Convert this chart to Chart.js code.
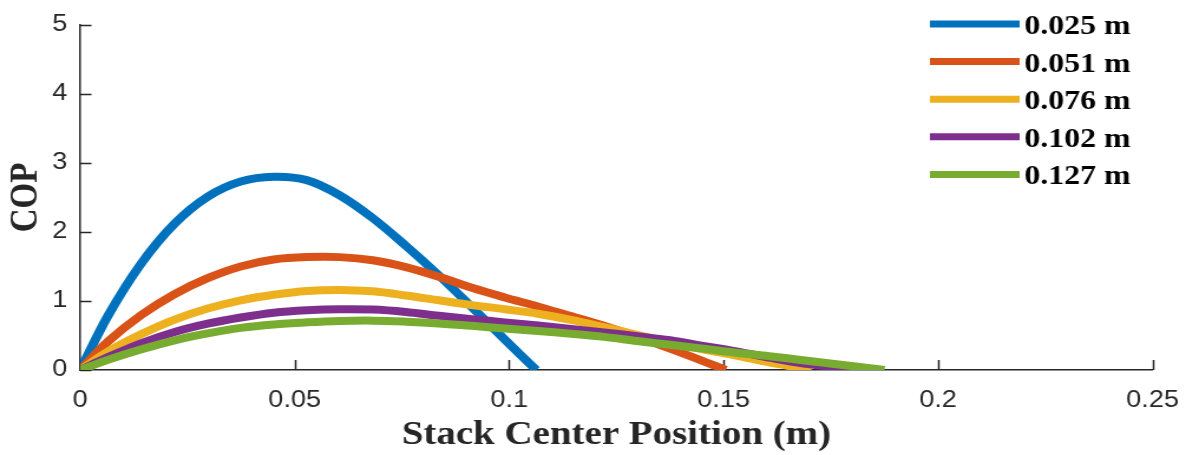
<!DOCTYPE html>
<html>
<head>
<meta charset="utf-8">
<script src="https://cdn.jsdelivr.net/npm/chart.js@4"></script>
<style>
  html, body { margin: 0; padding: 0; background: #ffffff; overflow: hidden; }
  canvas { display: block; }
</style>
</head>
<body>
<!-- drawn on a narrower canvas and widened by CSS: the figure is laid out with horizontally stretched lettering -->
<canvas id="c" width="1016" height="455" style="width:1199px;height:455px"></canvas>
<script>
// Stack center position (m) and COP for each stack length
const seriesLabels = ['0.025 m', '0.051 m', '0.076 m', '0.102 m', '0.127 m'];
const seriesColors = ['#0072BD', '#D95319', '#EDB120', '#7E2F8E', '#77AC30'];

const pos025 = [0, 0.0066, 0.0143, 0.022, 0.0297, 0.0374, 0.0451, 0.0528, 0.0605, 0.0682, 0.0759, 0.0836, 0.0913, 0.099, 0.1063];
const cop025 = [0, 0.80, 1.55, 2.12, 2.51, 2.73, 2.80, 2.75, 2.53, 2.20, 1.80, 1.37, 0.91, 0.44, 0];

const pos051 = [0, 0.0066, 0.0143, 0.022, 0.0297, 0.0374, 0.0451, 0.0528, 0.0605, 0.0682, 0.0759, 0.0836, 0.0913, 0.099, 0.1067, 0.1144, 0.1221, 0.1298, 0.1375, 0.1452, 0.1505];
const cop051 = [0, 0.42, 0.80, 1.10, 1.33, 1.50, 1.60, 1.635, 1.635, 1.59, 1.49, 1.35, 1.19, 1.05, 0.92, 0.78, 0.64, 0.48, 0.31, 0.13, 0];

const pos076 = [0, 0.0066, 0.0143, 0.022, 0.0297, 0.0374, 0.0451, 0.0528, 0.0605, 0.0682, 0.0759, 0.0836, 0.0913, 0.099, 0.1067, 0.1144, 0.1221, 0.1298, 0.1375, 0.1452, 0.1529, 0.1606, 0.168, 0.1705];
const cop076 = [0, 0.27, 0.52, 0.73, 0.89, 1.01, 1.09, 1.145, 1.16, 1.14, 1.08, 1.01, 0.94, 0.88, 0.815, 0.725, 0.62, 0.51, 0.40, 0.30, 0.21, 0.11, 0.03, 0];

const pos102 = [0, 0.0066, 0.0143, 0.022, 0.0297, 0.0374, 0.0451, 0.0528, 0.0605, 0.0682, 0.0759, 0.0836, 0.0913, 0.099, 0.1067, 0.1144, 0.1221, 0.1298, 0.1375, 0.1452, 0.1529, 0.1606, 0.168, 0.181];
const cop102 = [0, 0.19, 0.39, 0.55, 0.67, 0.76, 0.83, 0.865, 0.88, 0.875, 0.84, 0.785, 0.735, 0.69, 0.645, 0.595, 0.545, 0.49, 0.43, 0.35, 0.27, 0.18, 0.10, 0];

const pos127 = [0, 0.0066, 0.0143, 0.022, 0.0297, 0.0374, 0.0451, 0.0528, 0.0605, 0.0682, 0.0759, 0.0836, 0.0913, 0.099, 0.1067, 0.1144, 0.1221, 0.1298, 0.1375, 0.1452, 0.1529, 0.1606, 0.168, 0.1875];
const cop127 = [0, 0.15, 0.30, 0.43, 0.53, 0.61, 0.66, 0.69, 0.71, 0.715, 0.70, 0.675, 0.64, 0.60, 0.565, 0.525, 0.48, 0.42, 0.365, 0.31, 0.25, 0.20, 0.145, 0];

// axis ticks
const xTickValues = [0, 0.05, 0.1, 0.15, 0.2, 0.25];
const xTickLabels = ['0', '0.05', '0.1', '0.15', '0.2', '0.25'];
const yTickValues = [0, 1, 2, 3, 4, 5];
const yTickLabels = ['0', '1', '2', '3', '4', '5'];

const positions = [pos025, pos051, pos076, pos102, pos127];
const cops = [cop025, cop051, cop076, cop102, cop127];

const AXIS_COLOR = '#262626';

const datasets = seriesLabels.map((label, i) => ({
  label,
  data: positions[i].map((x, k) => ({ x, y: cops[i][k] })),
  borderColor: seriesColors[i],
  backgroundColor: seriesColors[i],
  borderWidth: 8,
  pointRadius: 0,
  fill: false,
  tension: 0.35,
  order: seriesLabels.length - i   // later series are painted over earlier ones
}));

// MATLAB-style tick marks pointing into the plot
const inwardTicks = {
  id: 'inwardTicks',
  beforeDatasetsDraw(chart) {
    const { ctx, chartArea: a, scales: { x, y } } = chart;
    ctx.save();
    ctx.strokeStyle = AXIS_COLOR;
    ctx.lineWidth = 1.5;
    ctx.beginPath();
    xTickValues.forEach(v => {
      const px = Math.round(x.getPixelForValue(v)) + 0.5;
      ctx.moveTo(px, a.bottom);
      ctx.lineTo(px, a.bottom - 10);
    });
    yTickValues.forEach(v => {
      const py = Math.round(y.getPixelForValue(v)) + 0.5;
      ctx.moveTo(a.left, py);
      ctx.lineTo(a.left + 9.5, py);
    });
    ctx.stroke();
    ctx.restore();
  }
};

// legend drawn inside the axes, top right
const LEGEND = { x0: 788, x1: 864, textX: 868, top: 24, rowGap: 37.6 };
const insetLegend = {
  id: 'insetLegend',
  afterDraw(chart) {
    const { ctx } = chart;
    ctx.save();
    chart.data.datasets.forEach((ds, i) => {
      const yc = LEGEND.top + i * LEGEND.rowGap;
      ctx.strokeStyle = ds.borderColor;
      ctx.lineWidth = 7;
      ctx.beginPath();
      ctx.moveTo(LEGEND.x0, yc);
      ctx.lineTo(LEGEND.x1, yc);
      ctx.stroke();
      ctx.fillStyle = '#000000';
      ctx.font = 'bold 27px "Liberation Serif"';
      ctx.textAlign = 'left';
      ctx.textBaseline = 'middle';
      ctx.fillText(ds.label, LEGEND.textX, yc + 3);
    });
    ctx.restore();
  }
};

new Chart(document.getElementById('c'), {
  type: 'line',
  data: { datasets },
  options: {
    responsive: false,
    devicePixelRatio: 1,
    animation: false,
    events: [],
    layout: { padding: { top: 20, right: 33, left: 0, bottom: 0 } },
    plugins: { legend: { display: false }, tooltip: { enabled: false } },
    scales: {
      x: {
        type: 'linear',
        min: 0,
        max: 0.25,
        afterBuildTicks: s => { s.ticks = xTickValues.map(value => ({ value })); },
        afterFit: s => { s.height = 85; },
        ticks: {
          callback: (v) => xTickLabels[xTickValues.indexOf(v)],
          color: AXIS_COLOR,
          font: { family: '"Liberation Sans"', size: 23 },
          padding: 17,
          maxRotation: 0,
          autoSkip: false
        },
        grid: { display: true, drawOnChartArea: false, drawTicks: false },
        border: { display: true, color: AXIS_COLOR, width: 1.5 },
        title: {
          display: true,
          text: 'Stack Center Position (m)',
          color: AXIS_COLOR,
          font: { family: '"Liberation Serif"', size: 33, weight: 'bold', lineHeight: 1.1 },
          padding: { top: 0, bottom: 1 }
        }
      },
      y: {
        type: 'linear',
        min: 0,
        max: 5,
        afterBuildTicks: s => { s.ticks = yTickValues.map(value => ({ value })); },
        afterFit: s => { s.width = 68; },
        ticks: {
          callback: (v) => yTickLabels[yTickValues.indexOf(v)],
          color: AXIS_COLOR,
          font: { family: '"Liberation Sans"', size: 23 },
          padding: 11
        },
        grid: { display: true, drawOnChartArea: false, drawTicks: false },
        border: { display: true, color: AXIS_COLOR, width: 1.5 },
        title: {
          display: true,
          text: 'COP',
          color: AXIS_COLOR,
          font: { family: '"Liberation Serif"', size: 33, weight: 'bold', lineHeight: 1.1 },
          padding: { top: 4, bottom: 0 }
        }
      }
    }
  },
  plugins: [inwardTicks, insetLegend]
});
</script>
</body>
</html>
